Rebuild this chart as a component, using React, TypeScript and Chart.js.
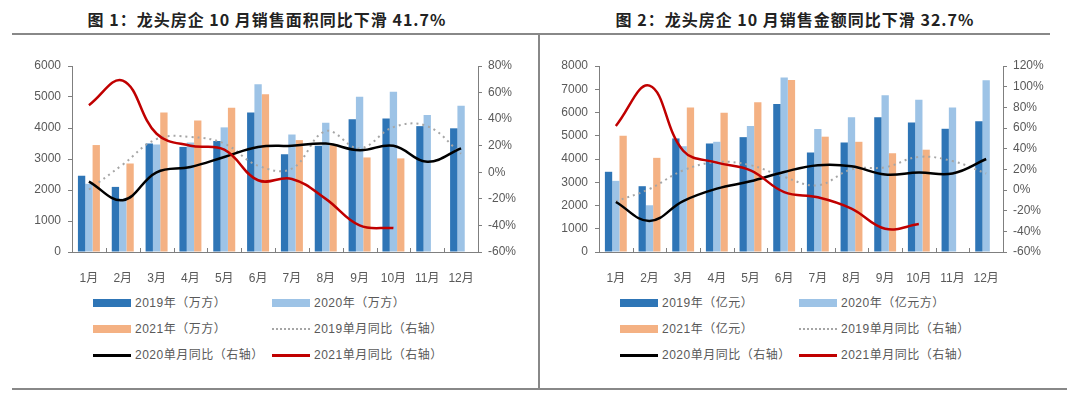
import React, { useEffect, useRef } from "react";
import { Chart, registerables } from "chart.js";

Chart.register(...registerables);

const months = ["1月", "2月", "3月", "4月", "5月", "6月", "7月", "8月", "9月", "10月", "11月", "12月"];

// Chart 1: sales area (万方)
const area2019 = [2460, 2100, 3500, 3390, 3580, 4500, 3150, 3430, 4280, 4310, 4060, 3990];
const area2020 = [2200, 1720, 3470, 3530, 4020, 5410, 3790, 4170, 5010, 5170, 4420, 4720];
const area2021 = [3450, 2855, 4500, 4245, 4655, 5085, 3610, 3450, 3050, 3020, null, null];
const areaYoy2019 = [-13, 5.8, 25, 26.6, 21.6, 5, 2.8, 31, 18, 34, 34.7, 14];
const areaYoy2020 = [-7, -21, 0, 4, 11.5, 19, 20, 21.6, 16.6, 20, 8, 18];
const areaYoy2021 = [50.5, 69, 29, 20, 17, -6, -5, -20, -40, -42, null, null];

// Chart 2: sales amount (亿元)
const amt2019 = [3450, 2830, 4885, 4670, 4940, 6365, 4280, 4710, 5800, 5575, 5300, 5620];
const amt2020 = [3060, 2010, 4550, 4740, 5420, 7510, 5290, 5800, 6740, 6550, 6210, 7385];
const amt2021 = [5000, 4050, 6210, 5990, 6440, 7400, 4960, 4740, 4250, 4400, null, null];
const amtYoy2019 = [-11, 1, 19, 27, 24, 12.6, 4.5, 20, 22, 32, 28, 16];
const amtYoy2020 = [-11.6, -30, -10.7, 1.3, 8.4, 17.5, 24, 23, 15, 17, 16, 30];
const amtYoy2021 = [62, 101, 38, 26.5, 19, -2, -7, -18, -37.5, -33, null, null];

const leftTicks1 = { min: 0, max: 6000, step: 1000 };
const rightTicks1 = { min: -60, max: 80, step: 20 };
const leftTicks2 = { min: 0, max: 8000, step: 1000 };
const rightTicks2 = { min: -60, max: 120, step: 20 };

const legend1 = ["2019年（万方）", "2020年（万方）", "2021年（万方）", "2019单月同比（右轴）", "2020单月同比（右轴）", "2021单月同比（右轴）"];
const legend2 = ["2019年（亿元）", "2020年（亿元方）", "2021年（亿元）", "2019单月同比（右轴）", "2020单月同比（右轴）", "2021单月同比（右轴）"];

const C_DARK = "#2E75B6";
const C_LIGHT = "#9DC3E6";
const C_ORANGE = "#F4B183";
const C_RED = "#C00000";
const C_BLACK = "#000000";
const C_GRAY = "#A6A6A6";
const AXIS = "#7f7f7f";
const TXT = "#595959";
const FONT = '"Liberation Sans", Arial, "Noto Sans CJK SC", sans-serif';

const innerTicks = {
  id: "innerTicks",
  afterDatasetsDraw(chart: any) {
    const xs = chart.scales.x;
    const ctx = chart.ctx;
    const n = xs.ticks.length;
    ctx.save();
    ctx.strokeStyle = AXIS;
    ctx.lineWidth = 1;
    for (let i = 1; i < n; i++) {
      const x = Math.round((xs.getPixelForValue(i - 1) + xs.getPixelForValue(i)) / 2) + 0.5;
      ctx.beginPath();
      ctx.moveTo(x, xs.top);
      ctx.lineTo(x, xs.top - 4);
      ctx.stroke();
    }
    ctx.restore();
  },
};

type Props = {
  b19: (number | null)[];
  b20: (number | null)[];
  b21: (number | null)[];
  y19: (number | null)[];
  y20: (number | null)[];
  y21: (number | null)[];
  left: { min: number; max: number; step: number };
  right: { min: number; max: number; step: number };
  leftW: number;
  rightW: number;
};

function ComboChart(p: Props) {
  const ref = useRef<HTMLCanvasElement | null>(null);
  useEffect(() => {
    if (!ref.current) return;
    const lineBase = { type: "line" as const, yAxisID: "y1", pointRadius: 0, tension: 0.4, fill: false, borderWidth: 2.5 };
    const chart = new Chart(ref.current, {
      type: "bar",
      data: {
        labels: months,
        datasets: [
          { type: "bar", data: p.b19, backgroundColor: C_DARK, yAxisID: "y", order: 10, barPercentage: 1, categoryPercentage: 0.65 },
          { type: "bar", data: p.b20, backgroundColor: C_LIGHT, yAxisID: "y", order: 10, barPercentage: 1, categoryPercentage: 0.65 },
          { type: "bar", data: p.b21, backgroundColor: C_ORANGE, yAxisID: "y", order: 10, barPercentage: 1, categoryPercentage: 0.65 },
          { ...lineBase, data: p.y19, borderColor: C_GRAY, borderWidth: 2, borderDash: [2, 4], order: 3 },
          { ...lineBase, data: p.y20, borderColor: C_BLACK, order: 2 },
          { ...lineBase, data: p.y21, borderColor: C_RED, order: 1 },
        ] as any,
      },
      options: {
        animation: false,
        responsive: false,
        maintainAspectRatio: false,
        layout: { padding: { top: 26, left: 0, right: 0, bottom: 0 } },
        plugins: { legend: { display: false }, tooltip: { enabled: false }, title: { display: false } },
        scales: {
          x: {
            grid: { display: false, drawOnChartArea: false },
            border: { display: true, color: AXIS, width: 1 },
            ticks: { color: TXT, font: { family: FONT, size: 12 }, padding: 11, maxRotation: 0, autoSkip: false },
            afterFit(s: any) { s.height = 38; },
          },
          y: {
            position: "left",
            min: p.left.min,
            max: p.left.max,
            grid: { drawOnChartArea: false, drawTicks: true, tickLength: 4, color: AXIS },
            border: { display: true, color: AXIS, width: 1 },
            ticks: { stepSize: p.left.step, color: TXT, font: { family: FONT, size: 12 }, padding: 7, callback: (v: any) => String(v) },
            afterFit(s: any) { s.width = p.leftW; },
          },
          y1: {
            position: "right",
            min: p.right.min,
            max: p.right.max,
            grid: { drawOnChartArea: false, drawTicks: true, tickLength: 4, color: AXIS },
            border: { display: true, color: AXIS, width: 1 },
            ticks: { stepSize: p.right.step, color: TXT, font: { family: FONT, size: 12 }, padding: 6, callback: (v: any) => v + "%" },
            afterFit(s: any) { s.width = p.rightW; },
          },
        },
      } as any,
      plugins: [innerTicks],
    });
    return () => chart.destroy();
  }, []);
  return <canvas ref={ref} width={540} height={250} style={{ width: 540, height: 250, display: "block" }} />;
}

function Legend({ labels, x1, x2 }: { labels: string[]; x1: number; x2: number }) {
  const rows = [303, 329, 355];
  const sw = [
    { kind: "bar", color: C_DARK },
    { kind: "bar", color: C_LIGHT },
    { kind: "bar", color: C_ORANGE },
    { kind: "dot", color: C_GRAY },
    { kind: "line", color: C_BLACK },
    { kind: "line", color: C_RED },
  ];
  return (
    <>
      {labels.map((t, i) => {
        const x = i % 2 === 0 ? x1 : x2;
        const y = rows[Math.floor(i / 2)];
        const s = sw[i];
        let swatch: any;
        if (s.kind === "bar") swatch = { top: y - 4, height: 8, background: s.color };
        else if (s.kind === "line") swatch = { top: y - 1, height: 3, background: s.color };
        else swatch = { top: y - 1, height: 0, borderTop: `2px dotted ${s.color}` };
        return (
          <React.Fragment key={i}>
            <div style={{ position: "absolute", left: x, width: 38, ...swatch }} />
            <div style={{ position: "absolute", left: x + 42, top: y - 9, height: 18, lineHeight: "18px", fontSize: 12, color: TXT, fontFamily: FONT, whiteSpace: "nowrap", letterSpacing: 0.5 }}>{t}</div>
          </React.Fragment>
        );
      })}
    </>
  );
}

const titleStyle: React.CSSProperties = {
  position: "absolute",
  top: 8,
  height: 22,
  lineHeight: "22px",
  fontSize: 16,
  fontWeight: "bold",
  fontFamily: '"Noto Sans CJK SC", "Liberation Sans", sans-serif',
  color: "#222",
  whiteSpace: "nowrap",
  letterSpacing: 1,
  transform: "translateX(-50%)",
};

export default function App() {
  return (
    <div style={{ position: "absolute", left: 0, top: 0, width: 1080, height: 396, background: "#fff", overflow: "hidden" }}>
      <div style={{ ...titleStyle, left: 267 }}>图 1：龙头房企 10 月销售面积同比下滑 41.7%</div>
      <div style={{ ...titleStyle, left: 795 }}>图 2：龙头房企 10 月销售金额同比下滑 32.7%</div>
      <div style={{ position: "absolute", left: 12, top: 33, width: 1038, height: 2, background: "#888" }} />
      <div style={{ position: "absolute", left: 538, top: 33, width: 2, height: 357, background: "#888" }} />
      <div style={{ position: "absolute", left: 12, top: 388, width: 1055, height: 2, background: "#888" }} />
      <div style={{ position: "absolute", left: 0, top: 40 }}>
        <ComboChart b19={area2019} b20={area2020} b21={area2021} y19={areaYoy2019} y20={areaYoy2020} y21={areaYoy2021} left={leftTicks1} right={rightTicks1} leftW={72} rightW={62} />
      </div>
      <div style={{ position: "absolute", left: 540, top: 40 }}>
        <ComboChart b19={amt2019} b20={amt2020} b21={amt2021} y19={amtYoy2019} y20={amtYoy2020} y21={amtYoy2021} left={leftTicks2} right={rightTicks2} leftW={59} rightW={77} />
      </div>
      <Legend labels={legend1} x1={93} x2={272} />
      <Legend labels={legend2} x1={620} x2={799} />
    </div>
  );
}
